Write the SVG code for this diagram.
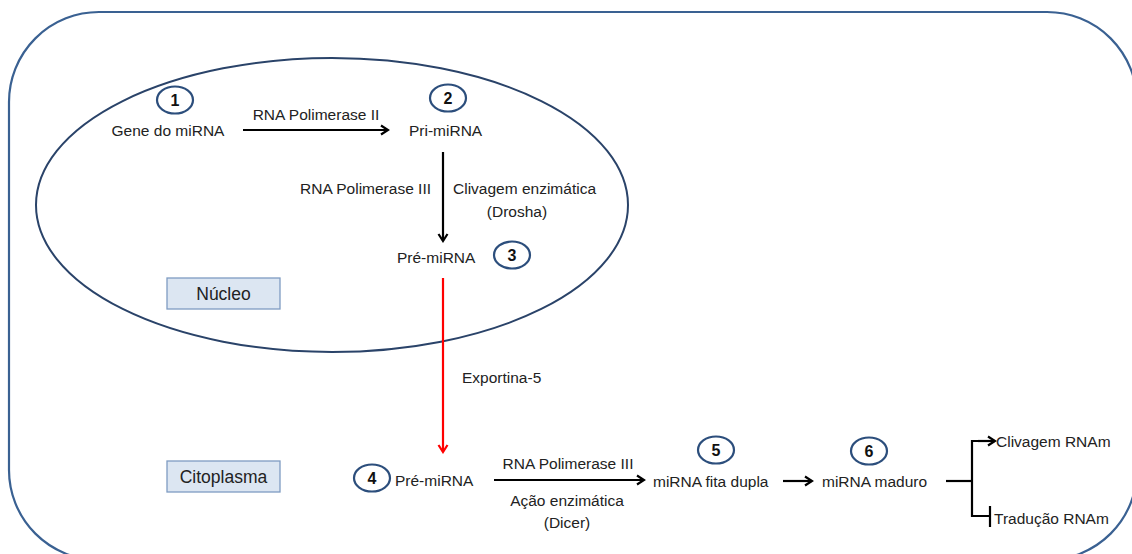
<svg xmlns="http://www.w3.org/2000/svg" width="1132" height="554" viewBox="0 0 1132 554">
  <defs>
    <marker id="arrow" viewBox="0 0 12 12" refX="10" refY="6" markerWidth="12" markerHeight="12" markerUnits="userSpaceOnUse" orient="auto">
      <path d="M3,1.5 L10,6 L3,10.5" fill="none" stroke="#000" stroke-width="2.2"/>
    </marker>
    <marker id="arrow-red" viewBox="0 0 12 12" refX="10" refY="6" markerWidth="12" markerHeight="12" markerUnits="userSpaceOnUse" orient="auto">
      <path d="M3,1.5 L10,6 L3,10.5" fill="none" stroke="#ff0000" stroke-width="2.2"/>
    </marker>
  </defs>
  <style>
    text { font-family: "Liberation Sans", Arial, sans-serif; font-size: 15.5px; fill: #222; }
    .num { font-weight: bold; font-size: 16px; fill: #111; text-anchor: middle; }
    .badge { fill: #fff; stroke: #2c4e7c; stroke-width: 2.2; }
    .mid { text-anchor: middle; }
    .end { text-anchor: end; }
    .label-box { fill: #dce6f2; stroke: #7f9cc2; stroke-width: 1.3; }
    .label { font-size: 17.5px; text-anchor: middle; }
    .conn { fill: none; stroke: #000; stroke-width: 2.2; }
  </style>

  <rect width="1132" height="554" fill="#fff"/>

  <!-- cell membrane -->
  <g id="cell">
    <rect x="9" y="12" width="1128" height="548" rx="90" ry="90" fill="none" stroke="#3a6192" stroke-width="2.2"/>
  </g>

  <!-- nucleus -->
  <g id="nucleus">
    <ellipse cx="332" cy="205" rx="296" ry="147" fill="none" stroke="#2a4369" stroke-width="2"/>
  </g>

  <g id="label-nucleo">
    <rect class="label-box" x="167" y="278" width="113" height="31"/>
    <text class="label" x="223.5" y="300">Núcleo</text>
  </g>

  <g id="label-citoplasma">
    <rect class="label-box" x="167" y="461" width="113" height="31"/>
    <text class="label" x="223.5" y="483">Citoplasma</text>
  </g>

  <g id="step1">
    <ellipse class="badge" cx="175" cy="100" rx="18" ry="13.5"/>
    <text class="num" x="175" y="106">1</text>
    <text class="mid" x="168" y="135.5">Gene do miRNA</text>
  </g>

  <g id="step2">
    <ellipse class="badge" cx="448" cy="98" rx="18" ry="13.5"/>
    <text class="num" x="448" y="104">2</text>
    <text x="409" y="135.5">Pri-miRNA</text>
  </g>

  <g id="step3">
    <text x="397" y="262.5">Pré-miRNA</text>
    <ellipse class="badge" cx="512" cy="255" rx="18" ry="13.5"/>
    <text class="num" x="512" y="261">3</text>
  </g>

  <g id="step4">
    <ellipse class="badge" cx="372" cy="478" rx="18" ry="13.5"/>
    <text class="num" x="372" y="484">4</text>
    <text x="395" y="485.5">Pré-miRNA</text>
  </g>

  <g id="step5">
    <ellipse class="badge" cx="716" cy="450" rx="18" ry="13.5"/>
    <text class="num" x="716" y="456">5</text>
    <text x="653" y="486.5">miRNA fita dupla</text>
  </g>

  <g id="step6">
    <ellipse class="badge" cx="869" cy="451" rx="18" ry="13.5"/>
    <text class="num" x="869" y="457">6</text>
    <text x="822" y="486.5">miRNA maduro</text>
  </g>

  <g id="outcome-clivagem">
    <text x="996" y="447">Clivagem RNAm</text>
  </g>

  <g id="outcome-traducao">
    <text x="994" y="523.5">Tradução RNAm</text>
  </g>

  <!-- connectors and their labels -->
  <g id="connectors">
    <line class="conn" x1="243" y1="130" x2="388" y2="130" marker-end="url(#arrow)"/>
    <text class="mid" x="316" y="119.5">RNA Polimerase II</text>

    <line class="conn" x1="443" y1="152" x2="443" y2="241" marker-end="url(#arrow)"/>
    <text class="end" x="431" y="193.5">RNA Polimerase III</text>
    <text x="453" y="193.5">Clivagem enzimática</text>
    <text class="mid" x="517" y="216.5">(Drosha)</text>

    <line x1="443" y1="278" x2="443" y2="452" fill="none" stroke="#ff0000" stroke-width="2.2" marker-end="url(#arrow-red)"/>
    <text x="462" y="382.5">Exportina-5</text>

    <line class="conn" x1="494" y1="480" x2="644" y2="480" marker-end="url(#arrow)"/>
    <text class="mid" x="568" y="468.5">RNA Polimerase III</text>
    <text class="mid" x="567" y="505.5">Ação enzimática</text>
    <text class="mid" x="567" y="527.5">(Dicer)</text>

    <line class="conn" x1="783" y1="481" x2="812" y2="481" marker-end="url(#arrow)"/>

    <line class="conn" x1="946" y1="481" x2="972" y2="481"/>
    <path class="conn" d="M995,441 L972,441 L972,516 L990,516"/>
    <line class="conn" x1="978" y1="441" x2="995" y2="441" marker-end="url(#arrow)"/>
    <line class="conn" x1="990" y1="506" x2="990" y2="527"/>
  </g>
</svg>
